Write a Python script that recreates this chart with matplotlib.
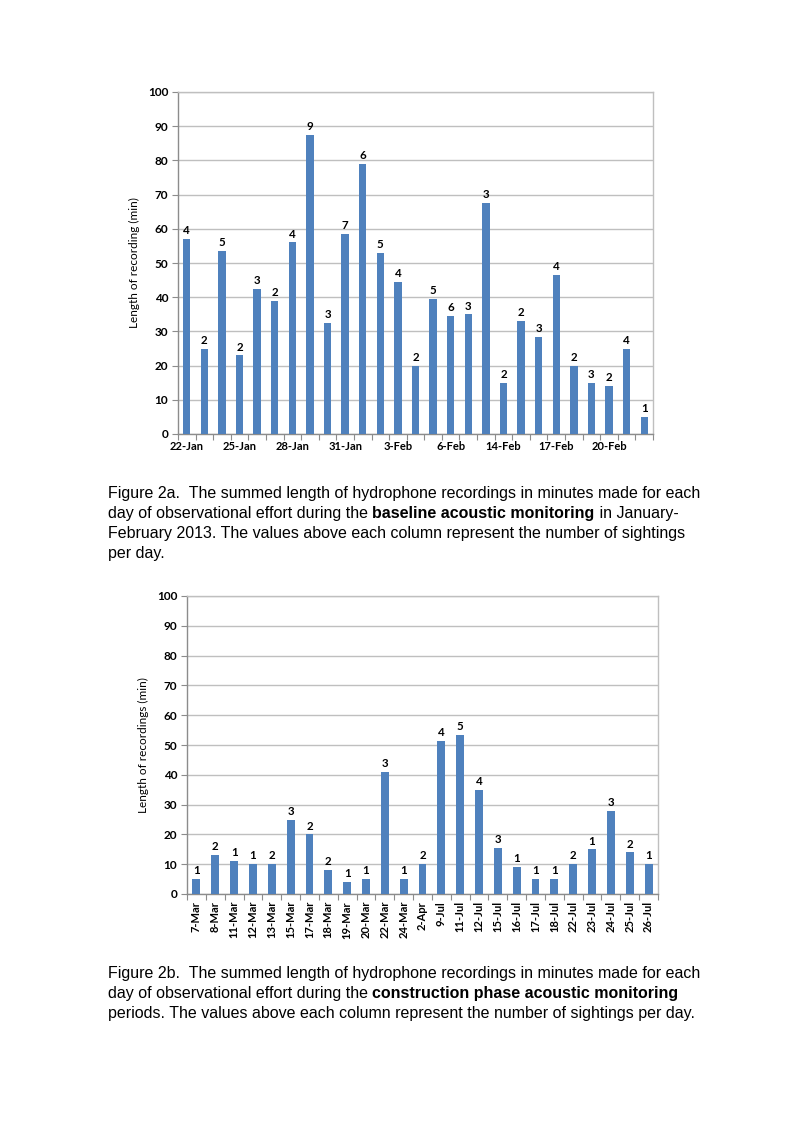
import matplotlib
matplotlib.use('Agg')
import matplotlib.pyplot as plt
import numpy as np

# Figure 2a - baseline acoustic monitoring (Jan-Feb 2013)
base_days = ['22-Jan', '', '', '25-Jan', '', '', '28-Jan', '', '', '31-Jan', '', '',
             '3-Feb', '', '', '6-Feb', '', '', '14-Feb', '', '', '17-Feb', '', '',
             '20-Feb', '', '']
base_minutes = [57, 25, 53.5, 23, 42.5, 39, 56, 87.5, 32.5, 58.5, 79, 53, 44.5, 20,
                39.5, 34.5, 35, 67.5, 15, 33, 28.5, 46.5, 20, 15, 14, 25, 5]
base_sightings = [4, 2, 5, 2, 3, 2, 4, 9, 3, 7, 6, 5, 4, 2, 5, 6, 3, 3, 2, 2, 3, 4,
                  2, 3, 2, 4, 1]

# Figure 2b - construction phase acoustic monitoring
cons_days = ['7-Mar', '8-Mar', '11-Mar', '12-Mar', '13-Mar', '15-Mar', '17-Mar',
             '18-Mar', '19-Mar', '20-Mar', '22-Mar', '24-Mar', '2-Apr', '9-Jul',
             '11-Jul', '12-Jul', '15-Jul', '16-Jul', '17-Jul', '18-Jul', '22-Jul',
             '23-Jul', '24-Jul', '25-Jul', '26-Jul']
cons_minutes = [5, 13, 11, 10, 10, 25, 20, 8, 4, 5, 41, 5, 10, 51.5, 53.5, 35, 15.5,
                9, 5, 5, 10, 15, 28, 14, 10]
cons_sightings = [1, 2, 1, 1, 2, 3, 2, 2, 1, 1, 3, 1, 2, 4, 5, 4, 3, 1, 1, 1, 2, 1,
                  3, 2, 1]

BAR = '#4f81bd'
GRID = '#bfbfbf'
CHART_FONT = 'Lato'
CAP_FONT = 'Liberation Sans'

fig = plt.figure(figsize=(7.93, 11.23), dpi=100)
fig.patch.set_facecolor('white')


def excel_bars(ax, labels, values, counts, ylabel, rotate):
    n = len(values)
    x = np.arange(n)
    ax.bar(x, values, width=0.42, color=BAR, zorder=3)
    for xi, v, c in zip(x, values, counts):
        ax.annotate(str(c), (xi, v), xytext=(0, 2), textcoords='offset points',
                    ha='center', va='bottom', fontsize=8.3, fontweight='bold',
                    family=CHART_FONT, color='black')
    ax.set_xlim(-0.5, n - 0.5)
    ax.set_ylim(0, 100)
    ax.set_yticks(np.arange(0, 101, 10))
    ax.yaxis.grid(True, color=GRID, linewidth=1, zorder=0)
    ax.set_axisbelow(True)
    # tick marks between categories, labels under bars
    ax.set_xticks(np.arange(-0.5, n, 1))
    ax.set_xticklabels([])
    ax.set_xticks(x, minor=True)
    ax.set_xticklabels(labels, minor=True, rotation=90 if rotate else 0,
                       fontsize=8, fontweight='bold', family=CHART_FONT)
    ax.tick_params(axis='x', which='major', length=4, color='#8c8c8c', width=0.8)
    ax.tick_params(axis='x', which='minor', length=0, pad=5)
    ax.tick_params(axis='y', length=4, color='#8c8c8c', width=0.8, pad=3)
    for lab in ax.get_yticklabels():
        lab.set_fontsize(8.5)
        lab.set_fontweight('bold')
        lab.set_family(CHART_FONT)
    for side, sp in ax.spines.items():
        sp.set_color(GRID if side in ('top', 'right') else '#8c8c8c')
        sp.set_linewidth(1)
    ax.set_ylabel(ylabel, fontsize=8.5, family=CHART_FONT, labelpad=6)


ax1 = fig.add_axes([178 / 793, 1 - 434 / 1123, 475 / 793, 342 / 1123])
excel_bars(ax1, base_days, base_minutes, base_sightings,
           'Length of recording (min)', False)

ax2 = fig.add_axes([187 / 793, 1 - 894 / 1123, 471 / 793, 298 / 1123])
excel_bars(ax2, cons_days, cons_minutes, cons_sightings,
           'Length of recordings (min)', True)

# captions with bold phrases
cap_a = [
    [('Figure 2a.  The summed length of hydrophone recordings in minutes made for each', 'normal')],
    [('day of observational effort during the ', 'normal'),
     ('baseline acoustic monitoring', 'bold'), (' in January-', 'normal')],
    [('February 2013. The values above each column represent the number of sightings', 'normal')],
    [('per day.', 'normal')],
]
cap_b = [
    [('Figure 2b.  The summed length of hydrophone recordings in minutes made for each', 'normal')],
    [('day of observational effort during the ', 'normal'),
     ('construction phase acoustic monitoring', 'bold')],
    [('periods. The values above each column represent the number of sightings per day.', 'normal')],
]

renderer = fig.canvas.get_renderer()


def draw_caption(lines, x_px, y_px, step_px, size=11.5):
    for i, segs in enumerate(lines):
        x = x_px / 793
        y = 1 - (y_px + i * step_px) / 1123
        for txt, w in segs:
            t = fig.text(x, y, txt, fontsize=size, fontweight=w, family=CAP_FONT,
                         va='baseline', ha='left', color='black')
            bb = t.get_window_extent(renderer)
            x += bb.width / fig.bbox.width


draw_caption(cap_a, 108, 498, 20)
draw_caption(cap_b, 108, 978, 20)

fig.savefig('out.png', dpi=100, facecolor='white')
